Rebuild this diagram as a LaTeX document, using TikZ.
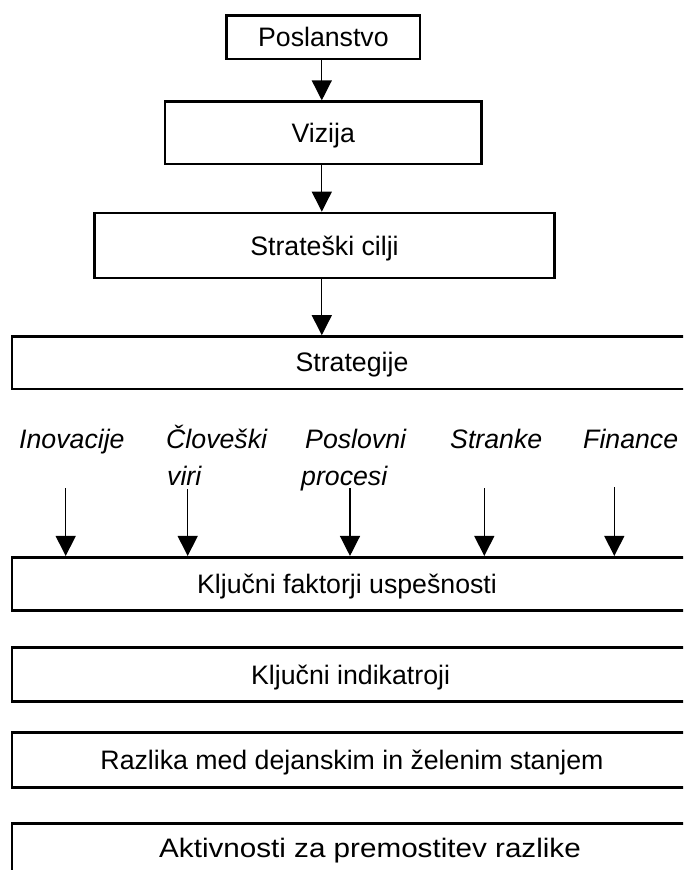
\documentclass[tikz,border=0pt]{standalone}
\usepackage{fontspec}
\usepackage{graphicx}
\setmainfont{Liberation Sans}
\usetikzlibrary{arrows.meta}
\begin{document}
\begin{tikzpicture}[x=1pt,y=-1pt,
  every node/.style={font=\fontsize{26.7}{32}\selectfont},
  frame/.style={draw, line width=2.7pt, inner sep=0pt,
    text height=19.1pt, text depth=0pt},
  widebox/.style={frame, minimum width=700pt},
  boxtext/.style={anchor=base, inner sep=0pt},
  lbl/.style={anchor=base west, inner sep=0pt, font=\fontsize{26.7}{32}\selectfont\itshape},
  arr/.style={line width=1.3pt, -{Triangle[length=20pt,width=20pt]}}]
\useasboundingbox (0,0) rectangle (683,870);
\clip (0,0) rectangle (683,870);

% upper chain of boxes
\node[frame, minimum width=193.3pt, minimum height=43.3pt] (posl) at (323.4,37.3) {Poslanstvo};
\node[frame, minimum width=316.3pt, minimum height=62.3pt] (viz) at (323.2,132.85) {Vizija};
\node[frame, minimum width=460.4pt, minimum height=65pt] (cilji) at (324.5,245.5) {Strateški cilji};

% wide boxes running off the right edge
\node[widebox, minimum height=52.5pt] (strat) at (362,362.75) {};
\node[boxtext] (strattxt) at (352,371) {Strategije};
\node[widebox, minimum height=53.4pt] (kfu) at (362,584) {};
\node[boxtext] (kfutxt) at (347,593.3) {Ključni faktorji uspešnosti};
\node[widebox, minimum height=54pt] (ki) at (362,674.3) {};
\node[boxtext] (kitxt) at (350.6,684) {Ključni indikatroji};
\node[widebox, minimum height=54.6pt] (raz) at (362,760) {};
\node[boxtext] (raztxt) at (352,769.8) {Razlika med dejanskim in želenim stanjem};
\node[widebox, minimum height=54pt] (akt) at (362,850.3) {};
\node[boxtext] (akttxt) at (370,857) {\scalebox{1.11}[1]{Aktivnosti za premostitev razlike}};

% vertical spine of arrows
\coordinate (spine) at (321.8,0);
\draw[arr] (posl.south -| spine) -- (viz.north -| spine);
\draw[arr] (viz.south -| spine) -- (cilji.north -| spine);
\draw[arr] (cilji.south -| spine) -- (strat.north -| spine);

% perspectives
\node[lbl] (inov) at (19,448.3) {Inovacije};
\node[lbl] (clov) at (166,448.3) {Človeški};
\node[lbl] (clov2) at (167,485) {viri};
\node[lbl] (posp) at (305,448.3) {Poslovni};
\node[lbl] (posp2) at (301,485) {procesi};
\node[lbl] (stra) at (450,448.3) {Stranke};
\node[lbl] (fin) at (583,448.3) {Finance};

\coordinate (a1) at (65.7,488);
\coordinate (a2) at (187.7,489);
\coordinate (a3) at (350,488);
\coordinate (a4) at (484.3,488);
\coordinate (a5) at (614.3,487);
\foreach \c in {a1,a2,a3,a4,a5}
  \draw[arr] (\c) -- (\c |- kfu.north);
\end{tikzpicture}
\end{document}
